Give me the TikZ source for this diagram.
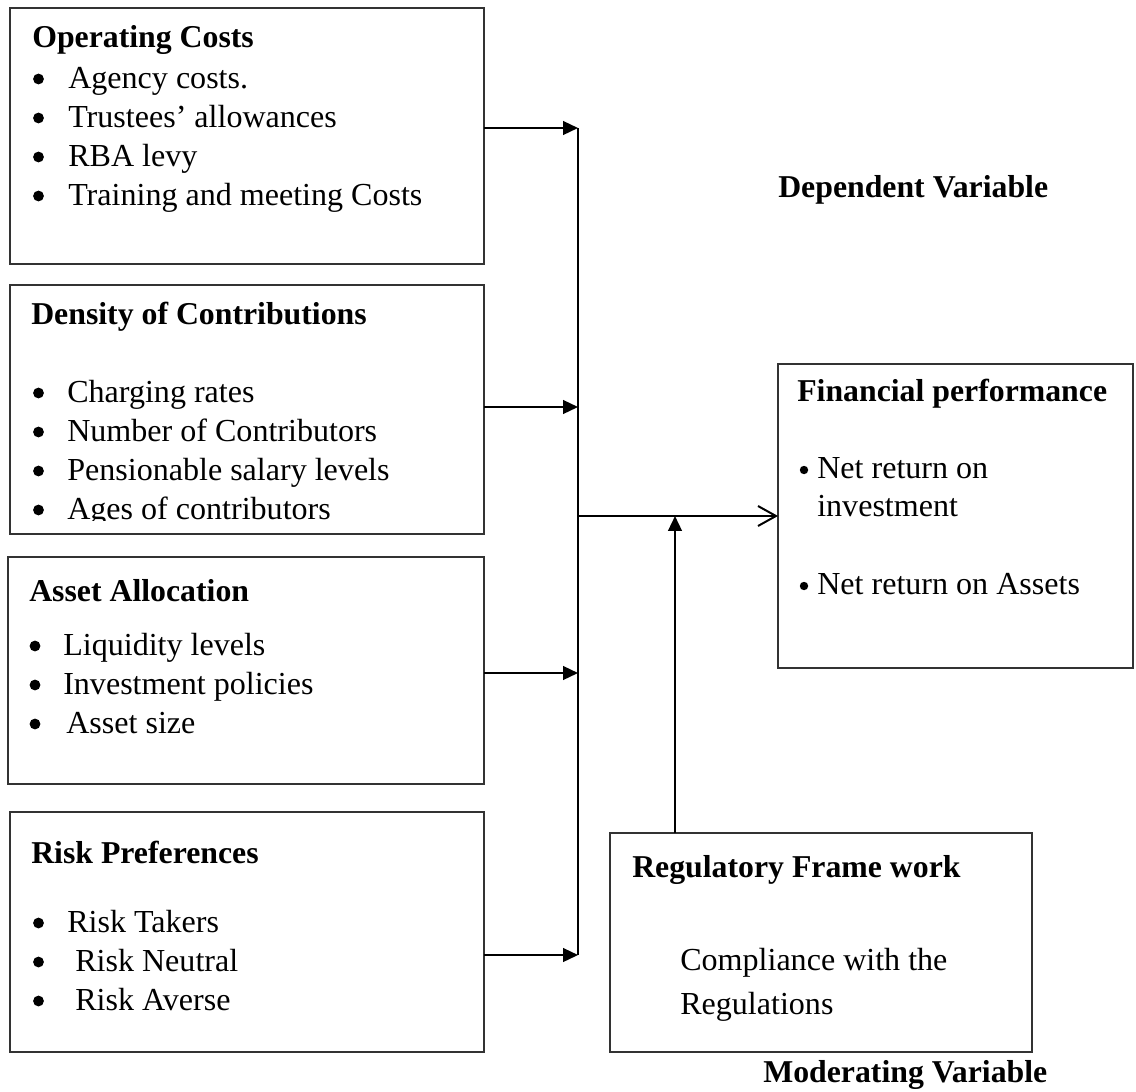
\documentclass[tikz,border=0pt]{standalone}
\usepackage{fontspec}
\setmainfont{Liberation Serif}
\usetikzlibrary{arrows.meta,calc}
\tikzset{>=Triangle}
\tikzset{
  box/.style={draw=black!80, line width=0.9pt, anchor=north west, inner sep=0pt, outer sep=0pt},
  txt/.style={anchor=base west, inner sep=0pt, font=\fontsize{22.8}{27.7}\selectfont},
  head/.style={txt, font=\fontsize{22.6}{27.7}\selectfont\bfseries},
  dot/.style={circle, fill=black, inner sep=0pt, minimum size=0.27cm},
  smalldot/.style={dot, minimum size=0.21cm},
  feed/.style={-{Triangle[length=0.37cm,width=0.34cm]}, line width=1.4pt},
}

\begin{document}
\begin{tikzpicture}[x=0.025cm, y=-0.025cm]
    \useasboundingbox (0,0) rectangle (1136,1091);

    % Draw the boxes
    \node[box, minimum width=11.85cm, minimum height=6.4cm] (opc) at (10,8) {};
    \node[box, minimum width=11.85cm, minimum height=6.225cm] (doc) at (10,285) {};
    \node[box, minimum width=11.9cm, minimum height=5.675cm] (asa) at (8,557) {};
    \node[box, minimum width=11.85cm, minimum height=6.0cm] (rsk) at (10,812) {};
    \node[box, minimum width=8.875cm, minimum height=7.6cm] (fin) at (778,364) {};
    \node[box, minimum width=10.55cm, minimum height=5.475cm] (reg) at (610,833) {};

    % Operating costs
    \node[head] (opct) at (32,48) {Operating Costs};
    \foreach \t [count=\i] in {Agency costs.,Trustees’ allowances,RBA levy,Training and meeting Costs} {
        \node[dot] (opcb\i) at (38.5,40+39*\i) {};
        \node[txt] (opc\i) at (68,49+39*\i) {\t};
    }

    % Density of contributions (last line cut by the box)
    \node[head] (doct) at (31,324) {Density of Contributions};
    \begin{scope}
        \clip (doc.north west) rectangle ([yshift=0.35cm]doc.south east);
        \foreach \t [count=\i] in {Charging rates,Number of Contributors,Pensionable salary levels,Ages of contributors} {
            \node[dot] (docb\i) at (38.5,354+39*\i) {};
            \node[txt] (doc\i) at (67,363+39*\i) {\t};
        }
    \end{scope}

    % Asset allocation
    \node[head] (asat) at (29,601) {Asset Allocation};
    \foreach \t/\x [count=\i] in {Liquidity levels/63,Investment policies/63,Asset size/66} {
        \node[dot] (asab\i) at (35,607+39*\i) {};
        \node[txt] (asa\i) at (\x,616+39*\i) {\t};
    }

    % Risk preferences
    \node[head] (rskt) at (31,863) {Risk Preferences};
    \foreach \t/\x [count=\i] in {Risk Takers/67,Risk Neutral/75,Risk Averse/75} {
        \node[dot] (rskb\i) at (38.5,884+39*\i) {};
        \node[txt] (rsk\i) at (\x,893+39*\i) {\t};
    }

    % Financial performance
    \node[head] (fint) at (797,401) {Financial performance};
    \node[smalldot] (finb1) at (804,470) {};
    \node[txt] (fin1) at (817,478) {Net return on};
    \node[txt] (fin2) at (817,516) {investment};
    \node[smalldot] (finb2) at (804,586) {};
    \node[txt] (fin3) at (817,594) {Net return on Assets};

    % Regulatory frame work
    \node[head] (regt) at (632,877) {Regulatory Frame work};
    \node[txt] (reg1) at (680,970) {Compliance with the};
    \node[txt] (reg2) at (680,1014) {Regulations};

    % Variable labels
    \node[head] (dep) at (778,197) {Dependent Variable};
    \node[head] (mod) at (763,1082) {Moderating Variable};

    % Arrows into the spine
    \coordinate (j1) at (578,128);
    \coordinate (j2) at (578,407);
    \coordinate (j3) at (578,673);
    \coordinate (j4) at (578,955);
    \coordinate (jo) at (578,516);
    \coordinate (mo) at (675,516);
    \draw[feed] (opc.east |- j1) -- (j1);
    \draw[feed] (doc.east |- j2) -- (j2);
    \draw[feed] (asa.east |- j3) -- (j3);
    \draw[feed] (rsk.east |- j4) -- (j4);
    \draw[line width=1.4pt] (j1) -- (j4);
    \draw[line width=1.4pt, -{Straight Barb[length=0.45cm,width=0.5cm]}] (jo) -- (fin.west |- jo);
    \draw[feed] (reg.north -| mo) -- (mo);

\end{tikzpicture}
\end{document}
